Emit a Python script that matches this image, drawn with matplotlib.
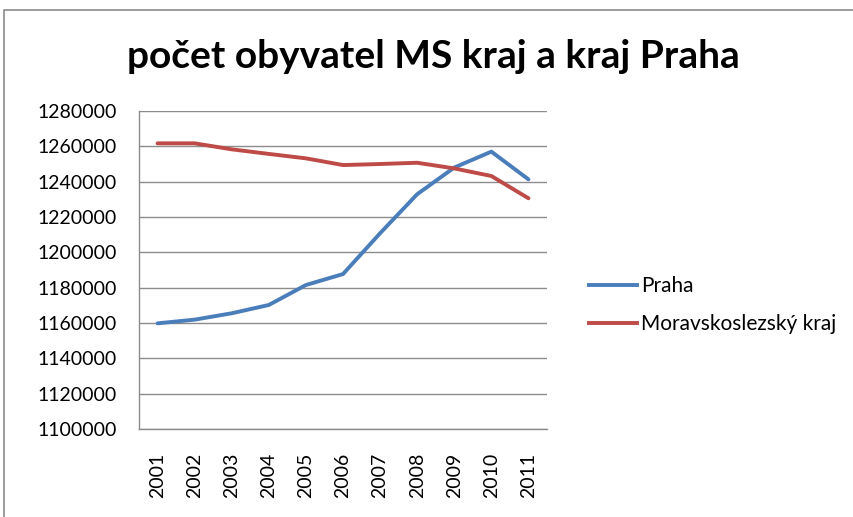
import matplotlib.pyplot as plt
from matplotlib.patches import Rectangle
from matplotlib.lines import Line2D

# data
years = ['2001', '2002', '2003', '2004', '2005', '2006', '2007', '2008', '2009', '2010', '2011']
praha = [1159800, 1161900, 1165500, 1170200, 1181500, 1187700, 1210800, 1232900, 1248000, 1257000, 1241300]
ms_kraj = [1261700, 1261700, 1258300, 1255700, 1253200, 1249400, 1250000, 1250700, 1247500, 1243200, 1230600]
yticks = list(range(1100000, 1280001, 20000))

plt.rcParams['font.family'] = ['Lato', 'DejaVu Sans']

fig = plt.figure(figsize=(8.54, 5.17), dpi=100)

# chart area border (runs off the right and bottom edge like in the screenshot)
fig.patches.append(Rectangle((4 / 854, -0.1), 1.0, 1 - 10 / 517 + 0.1, transform=fig.transFigure,
                             fill=False, edgecolor='#8c8c8c', linewidth=1.2))

ax = fig.add_axes([139 / 854, 1 - 429 / 517, 408 / 854, 318 / 517])
x = list(range(len(years)))
ax.plot(x, praha, color='#4a7ebb', linewidth=2.8, solid_capstyle='round')
ax.plot(x, ms_kraj, color='#be4b48', linewidth=2.8, solid_capstyle='round')

ax.set_xlim(-0.5, len(years) - 0.5)
ax.set_ylim(1100000, 1280000)
ax.set_yticks(yticks)
ax.set_yticklabels([str(v) for v in yticks], fontsize=14)
ax.set_xticks(x)
ax.set_xticklabels(years, rotation=90, fontsize=14)
ax.tick_params(axis='y', length=0, pad=16)
ax.tick_params(axis='x', length=0, pad=17)
ax.yaxis.grid(True, color='#8c8c8c', linewidth=1)
ax.set_axisbelow(True)
for s in ['top', 'right']:
    ax.spines[s].set_visible(False)
for s in ['left', 'bottom']:
    ax.spines[s].set_color('#8c8c8c')
    ax.spines[s].set_linewidth(1)

fig.text(433 / 854, 1 - 57 / 517, 'počet obyvatel MS kraj a kraj Praha', ha='center', va='center',
         fontsize=28, fontweight='bold')

handles = [Line2D([0], [0], color='#4a7ebb', linewidth=2.8),
           Line2D([0], [0], color='#be4b48', linewidth=2.8)]
fig.legend(handles, ['Praha', 'Moravskoslezský kraj'], loc='center left',
           bbox_to_anchor=(570 / 854, 1 - 305 / 517), frameon=False, fontsize=15,
           handlelength=2.3, handletextpad=0.2, labelspacing=0.85)

fig.savefig('out.png', dpi=100)
